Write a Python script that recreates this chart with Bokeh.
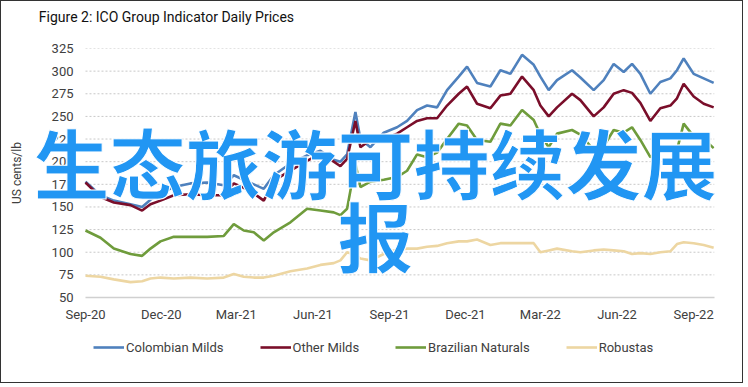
import pandas as pd
from bokeh.plotting import figure
from bokeh.layouts import column
from bokeh.models import (Range1d, FixedTicker, DatetimeTickFormatter, Legend,
                          LegendItem, Label)
from bokeh.embed import file_html
from bokeh.resources import INLINE

dates = ["2020-09-01", "2020-09-19", "2020-10-05", "2020-10-25", "2020-11-08",
         "2020-11-18", "2020-11-30", "2020-12-16", "2021-01-05", "2021-01-25",
         "2021-02-14", "2021-02-26", "2021-03-10", "2021-03-22", "2021-04-03",
         "2021-04-15", "2021-05-05", "2021-05-25", "2021-06-10", "2021-06-26",
         "2021-07-04", "2021-07-12", "2021-07-22", "2021-07-28", "2021-08-09",
         "2021-08-25", "2021-09-10", "2021-09-22", "2021-10-04", "2021-10-16",
         "2021-10-28", "2021-11-09", "2021-11-23", "2021-12-03", "2021-12-15",
         "2021-12-31", "2022-01-12", "2022-01-24", "2022-02-07", "2022-02-21",
         "2022-03-01", "2022-03-11", "2022-03-21", "2022-04-08", "2022-04-18",
         "2022-05-04", "2022-05-16", "2022-05-28", "2022-06-09", "2022-06-19",
         "2022-06-29", "2022-07-11", "2022-07-23", "2022-08-04", "2022-08-12",
         "2022-08-20", "2022-09-01", "2022-09-13", "2022-09-25"]

colombian_milds = [178, 163, 157, 153, 150, 158, 165, 172, 176, 177,
                   174, 185, 180, 175, 170, 185, 198, 207, 212, 202,
                   200, 208, 255, 225, 216, 232, 238, 245, 257, 262,
                   260, 279, 294, 305, 287, 283, 301, 297, 318, 307,
                   294, 279, 290, 301, 293, 279, 290, 308, 299, 308,
                   297, 275, 288, 292, 301, 314, 297, 292, 287]

other_milds = [177, 161, 155, 152, 146, 153, 157, 163, 164, 163,
               163, 176, 171, 165, 157, 179, 190, 201, 209, 200,
               195, 203, 245, 216, 224, 225, 231, 238, 245, 248,
               248, 262, 275, 283, 264, 259, 273, 275, 294, 279,
               262, 250, 260, 275, 268, 250, 260, 275, 279, 276,
               265, 245, 259, 262, 270, 286, 272, 264, 260]

brazilian_naturals = [124, 116, 104, 98, 96, 104, 112, 117, 117, 117,
                      118, 131, 124, 122, 113, 122, 133, 148, 146, 144,
                      141, 148, 198, 172, 178, 180, 183, 190, 208, 205,
                      210, 225, 242, 240, 224, 222, 242, 240, 257, 246,
                      230, 216, 231, 235, 230, 213, 217, 235, 232, 238,
                      224, 205, 213, 216, 213, 242, 228, 225, 215]

robustas = [74, 73, 70, 67, 68, 71, 72, 71, 72, 71,
            72, 76, 73, 72, 72, 74, 79, 82, 86, 88,
            91, 100, 97, 93, 91, 98, 103, 104, 104, 106,
            107, 110, 112, 112, 114, 108, 110, 110, 110, 110,
            100, 102, 104, 101, 100, 102, 103, 102, 101, 98,
            99, 98, 100, 101, 109, 111, 110, 108, 105]

series_names = ["Colombian Milds", "Other Milds", "Brazilian Naturals", "Robustas"]
series_colors = ["#4F81BD", "#7A0E2A", "#6F9C3C", "#EDD6A2"]
tick_dates = ["2020-09-01", "2020-12-01", "2021-03-01", "2021-06-01", "2021-09-01",
              "2021-12-01", "2022-03-01", "2022-06-01", "2022-09-01"]
y_ticks = [50, 75, 100, 125, 150, 175, 200, 225, 250, 275, 300, 325]
axis_start = "2020-09-01"
axis_end = "2022-09-26"
title_text = "Figure 2: ICO Group Indicator Daily Prices"

x = pd.to_datetime(dates)


def ms(d):
    return pd.Timestamp(d).value / 1e6


FONT = "Roboto"

# title strip
top = figure(width=741, height=30, output_backend="svg", toolbar_location=None,
             x_range=Range1d(0, 741), y_range=Range1d(0, 30), min_border=0,
             title_location=None)
top.axis.visible = False
top.grid.visible = False
top.outline_line_color = None
top.add_layout(Label(x=9, y=15, text=title_text, text_font=FONT,
                     text_font_size="14px", text_color="#111111",
                     text_align="left", text_baseline="middle"))

# frame extends left of the data so the overlay text is not clipped
x_lo = ms(pd.Timestamp(axis_start) - pd.Timedelta(days=66))

p = figure(width=741, height=296, output_backend="svg", toolbar_location=None,
           x_axis_type="datetime", title_location=None,
           x_range=Range1d(x_lo, ms(axis_end)),
           y_range=Range1d(50, 325),
           min_border_left=29, min_border_right=28, min_border_top=17,
           min_border_bottom=30)
p.outline_line_color = None

# x axis
p.xaxis.ticker = FixedTicker(ticks=[ms(d) for d in tick_dates])
p.xaxis.formatter = DatetimeTickFormatter(days="%b-%y", months="%b-%y", years="%b-%y")
p.xaxis.bounds = (ms(axis_start), ms(axis_end))
p.xaxis.axis_line_color = "#D0D0D0"
p.xaxis.axis_line_width = 1.5
p.xaxis.major_tick_line_color = None
p.xaxis.minor_tick_line_color = None
p.xaxis.major_label_standoff = 3
p.xaxis.major_label_text_font = FONT
p.xaxis.major_label_text_font_size = "13px"
p.xaxis.major_label_text_color = "#404040"

# y axis: labels drawn into the widened frame, next to the data area
p.yaxis.ticker = FixedTicker(ticks=y_ticks)
p.yaxis.axis_line_color = None
p.yaxis.major_tick_line_color = None
p.yaxis.minor_tick_line_color = None
p.yaxis.major_label_standoff = -49
p.yaxis.major_label_text_font = FONT
p.yaxis.major_label_text_font_size = "13px"
p.yaxis.major_label_text_color = "#404040"
p.yaxis.axis_label = "US cents/lb"
p.yaxis.axis_label_text_font = FONT
p.yaxis.axis_label_text_font_size = "12px"
p.yaxis.axis_label_text_font_style = "normal"
p.yaxis.axis_label_text_color = "#404040"
p.yaxis.axis_label_standoff = 25

p.xgrid.grid_line_color = None
p.ygrid.grid_line_color = None
grid_vals = y_ticks[1:]
p.segment(x0=[ms(axis_start)] * len(grid_vals), x1=[ms(axis_end)] * len(grid_vals),
          y0=grid_vals, y1=grid_vals, line_color="#C8C8C8", line_dash="2 2", line_width=1)

for name, vals, col in zip(series_names,
                           [colombian_milds, other_milds, brazilian_naturals, robustas],
                           series_colors):
    p.line(x, vals, line_color=col, line_width=2.6)

# overlay text
cx = ms("2021-08-15")
for txt, yy in [("生态旅游可持续发展", 201), ("报", 120)]:
    p.add_layout(Label(x=cx, y=yy, text=txt,
                       text_font="Noto Sans CJK SC", text_font_style="bold",
                       text_font_size="76px", text_color="#2196F3",
                       text_align="center", text_baseline="middle",
                       text_outline_color="white"))

# legend in its own strip below the chart
lg = figure(width=741, height=55, output_backend="svg", toolbar_location=None,
            x_range=Range1d(0, 1), y_range=Range1d(0, 1), min_border=0,
            title_location=None)
lg.axis.visible = False
lg.grid.visible = False
lg.outline_line_color = None
items = []
for name, col in zip(series_names, series_colors):
    r = lg.line([0, 0], [-5, -5], line_color=col, line_width=2.6)
    items.append(LegendItem(label=name, renderers=[r]))
legend = Legend(items=items, orientation="horizontal", location=(63, 25))
legend.label_text_font = FONT
legend.label_text_font_size = "13px"
legend.label_text_color = "#404040"
legend.glyph_width = 31
legend.glyph_height = 20
legend.label_standoff = 2
legend.spacing = 36
legend.border_line_color = None
legend.background_fill_alpha = 0
legend.margin = 0
legend.padding = 6
lg.add_layout(legend, "center")

page = column(top, p, lg, spacing=0, styles={"border": "1px solid #333"})

open("out.html", "w").write(file_html(page, INLINE))
